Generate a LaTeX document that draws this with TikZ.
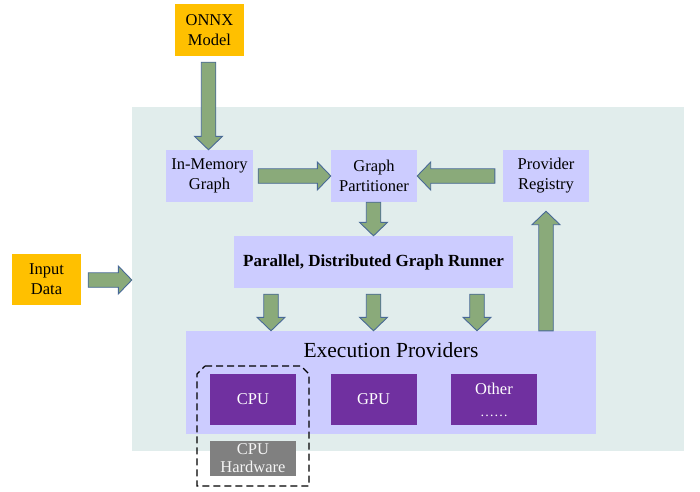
\documentclass[tikz,border=0pt]{standalone}
\usepackage{fontspec}
\setmainfont{Liberation Serif}
\usetikzlibrary{calc}
\definecolor{bgc}{RGB}{225,237,236}
\definecolor{boxc}{RGB}{204,204,255}
\definecolor{orangec}{RGB}{255,192,0}
\definecolor{purplec}{RGB}{112,48,160}
\definecolor{grayc}{RGB}{128,128,128}
\definecolor{arrfill}{RGB}{138,170,122}
\definecolor{arrline}{RGB}{72,105,150}
\tikzset{
  lbl/.style={font=\fontsize{16.5}{20}\selectfont, align=center, inner sep=0pt},
  ybox/.style={lbl, fill=orangec, minimum width=69pt, minimum height=52pt},
  bbox/.style={lbl, fill=boxc, minimum width=87pt, minimum height=52pt},
  pbox/.style={lbl, fill=purplec, text=white, minimum width=86pt, minimum height=51pt},
  barrow/.style={fill=arrfill, draw=arrline, line width=0.9pt, line join=miter},
}
\newcommand\blockarrow[2]{%
  \coordinate (ba-h) at ($(#2)!13.5pt!(#1)$);
  \path[barrow] ($(#1)!7.25pt!90:(#2)$) -- ($(ba-h)!7.25pt!90:(#2)$)
    -- ($(ba-h)!14pt!90:(#2)$) -- (#2) -- ($(ba-h)!14pt!-90:(#2)$)
    -- ($(ba-h)!7.25pt!-90:(#2)$) -- ($(#1)!7.25pt!-90:(#2)$) -- cycle;
}
\begin{document}
\begin{tikzpicture}[x=1pt,y=-1pt]
\useasboundingbox (0,0) rectangle (700,491);
% background region
\node[fill=bgc, minimum width=552pt, minimum height=344pt, inner sep=0pt] (bg) at (408,279) {};
% top nodes
\node[ybox] (onnx) at (209.5,30) {ONNX\\Model};
\node[ybox, minimum height=51pt] (input) at (46.5,279.5) {Input\\Data};
\node[bbox] (mem) at (209.5,176) {In-Memory\\Graph};
\node[bbox, minimum width=86pt] (part) at (374,176) {Graph\\Partitioner};
\node[bbox, minimum width=86pt] (reg) at (546,176) {Provider\\Registry};
\node[bbox, minimum width=279pt, font=\bfseries\fontsize{17}{20}\selectfont] (runner) at (373.5,262) {Parallel, Distributed Graph Runner};
% execution providers
\node[fill=boxc, minimum width=410pt, minimum height=103pt, inner sep=0pt] (ep) at (391,382.5) {};
\node[font=\fontsize{21.5}{24}\selectfont, inner sep=0pt] (eptitle) at (391,350) {Execution Providers};
\node[pbox] (cpu) at (253,399.5) {CPU};
\node[pbox] (gpu) at (373.5,399.5) {GPU};
\node[pbox, font=\fontsize{16.5}{20}\selectfont] (other) at (494,399.5) {Other\\[2pt]{\fontsize{14}{14}\selectfont ……}};
\node[lbl, fill=grayc, text=white!92!gray, minimum width=86pt, minimum height=35pt, font=\fontsize{16.5}{18}\selectfont] (hw) at (253,458.5) {CPU\\Hardware};
% dashed chamfered box around CPU and hardware
\draw[dash pattern=on 7pt off 4pt, line width=1.2pt]
  (205,366) -- (301,366) -- (309,374) -- (309,486) -- (197,486) -- (197,374) -- cycle;
% block arrows
\coordinate (a1s) at ($(onnx.south)+(-1,6)$);
\coordinate (a1e) at (a1s |- mem.north);
\blockarrow{a1s}{a1e}
\coordinate (a2s) at ($(mem.east)+(5,0)$);
\blockarrow{a2s}{part.west}
\coordinate (a3s) at ($(reg.west)+(-8,0)$);
\blockarrow{a3s}{part.east}
\coordinate (a4s) at ($(part.south)+(-0.5,0)$);
\coordinate (a4e) at (a4s |- runner.north);
\blockarrow{a4s}{a4e}
\coordinate (a5s) at (reg.south |- ep.north);
\coordinate (a5e) at ($(reg.south)+(0,9)$);
\blockarrow{a5s}{a5e}
\coordinate (a6s) at ($(input.east)+(7,0.5)$);
\coordinate (a6e) at (bg.west |- a6s);
\blockarrow{a6s}{a6e}
\foreach \dx/\n in {-102.5/r1, 0/r2, 103.5/r3}{
  \coordinate (\n s) at ($(runner.south)+(\dx,6)$);
  \coordinate (\n e) at (\n s |- ep.north);
  \blockarrow{\n s}{\n e}
}
\end{tikzpicture}
\end{document}
